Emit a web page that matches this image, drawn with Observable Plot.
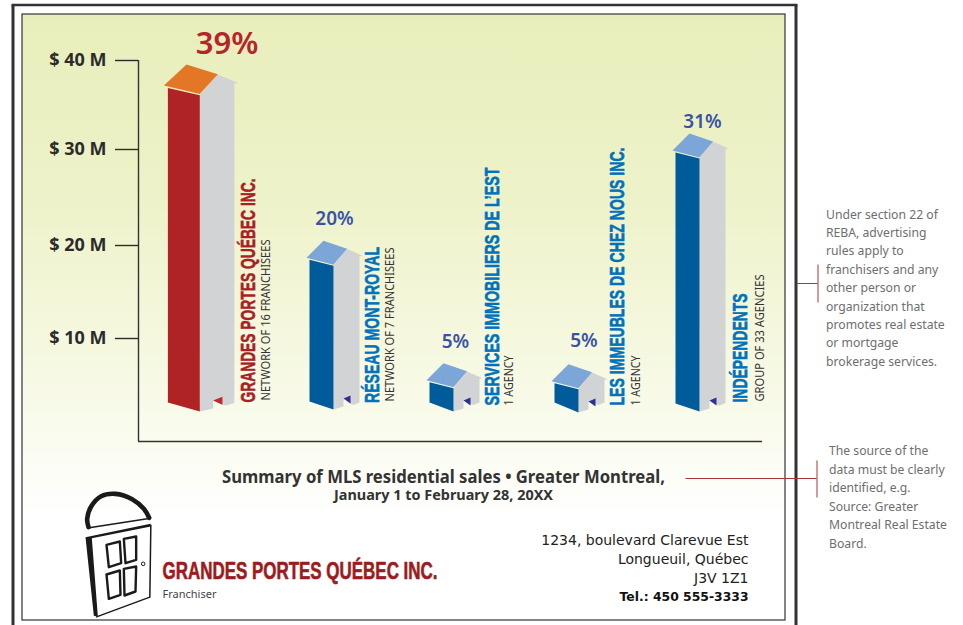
<!DOCTYPE html>
<html>
<head>
<meta charset="utf-8">
<script src="https://cdn.jsdelivr.net/npm/d3@7"></script>
<script src="https://cdn.jsdelivr.net/npm/@observablehq/plot@0.6"></script>
<style>html,body{margin:0;padding:0;background:#fff}svg{display:block}</style>
</head>
<body>
<script>
// ---- data ----
const names = ["GRANDES PORTES QUÉBEC INC.", "RÉSEAU MONT-ROYAL", "SERVICES IMMOBILIERS DE L’EST", "LES IMMEUBLES DE CHEZ NOUS INC.", "INDÉPENDENTS"];
const details = ["NETWORK OF 16 FRANCHISEES", "NETWORK OF 7 FRANCHISEES", "1 AGENCY", "1 AGENCY", "GROUP OF 33 AGENCIES"];
const salesMillions = [39.55, 20.5, 7.6, 7.5, 31.8];
const shares = ["39%", "20%", "5%", "5%", "31%"];
const yTicks = [10, 20, 30, 40];
const noteA = ["Under section 22 of", "REBA, advertising", "rules apply to", "franchisers and any", "other person or", "organization that", "promotes real estate", "or mortgage", "brokerage services."];
const noteB = ["The source of the", "data must be clearly", "identified, e.g.", "Source: Greater", "Montreal Real Estate", "Board."];
const address = ["1234, boulevard Clarevue Est", "Longueuil, Québec", "J3V 1Z1"];
const phone = "Tel.: 450 555-3333";
const titleLine = "Summary of MLS residential sales • Greater Montreal,";
const dateLine = "January 1 to February 28, 20XX";
const company = "GRANDES PORTES QUÉBEC INC.";
const role = "Franchiser";

// ---- layout ----
const yDomain = [0, 10, 20, 30, 40];
const yRange = [441, 338, 245, 149, 60];
const yScale = d3.scaleLinear(yDomain, yRange);
const Y = d3.scaleLinear(yRange, yDomain); // pixel row -> scale value, for furniture
const apexX = [186, 323, 443, 568, 689];
const sizeK = [1.33, 1, 1, 1, 1];
const sizeKY = [1.23, 1, 1, 1, 1];
const baseRow = [[402, 411, 402.5], [401, 409, 402], [402, 411, 402], [402, 412, 402], [403, 411, 402.5]];
const labelRowBottom = [402, 402.5, 405, 405, 402];
const nameBase = [254, 378, 498, 623, 746];
const nameLen = [224, 156, 238, 258, 109];
const detailBase = [269.5, 393.5, 512.5, 639.5, 763.5];
const detailBottom = [400, 401, 405, 405, 401];
const detailLen = [161, 154, 50, 50, 127];
const shareX = [226.5, 334, 455, 583.5, 702];
const shareRow = [53, 224, 347, 346, 127];
const shareSize = [31, 19, 19, 19, 19];

const RED = "#b02324", ORANGE = "#e37725", GREY = "#d2d3d5", BLUE = "#005b9a", SKY = "#7ca6d8", DOORR = "#c1272d", DOORB = "#2e3192";

// building faces as polygons
const verts = [];
function poly(id, fill, pts) { pts.forEach(p => verts.push({id, fill, x: p[0], y: Y(p[1])})); }
salesMillions.forEach((v, i) => {
  const k = sizeK[i], q = sizeKY[i], ax = apexX[i], ay = yScale(v);
  const [bl, bc, br] = baseRow[i];
  const cx = ax + 10 * k, lx = ax - 14 * k, rx = ax + 36 * k;
  const first = i === 0;
  poly("side" + i, GREY, [
    [cx, ay + 25 * q], [ax + 23 * k, ay + 8 * q], [ax + 39 * k, ay + 15 * q], [rx, ay + 15.5 * q],
    [rx, br], [cx + 20 * k, br + 2.5], [cx + 17 * k, br + 1.5], [cx + 10 * k, bc - 11],
    [cx + 10 * k, bc - 3], [cx, bc]
  ]);
  poly("front" + i, first ? RED : BLUE, [[lx, ay + 19 * q], [cx, ay + 25 * q], [cx, bc], [lx, bl]]);
  poly("roof" + i, first ? ORANGE : SKY, [[ax, ay], [ax + 23.5 * k, ay + 8 * q], [cx, ay + 24 * q], [ax - 17 * k, ay + 17 * q]]);
  poly("door" + i, first ? DOORR : DOORB, [[cx + 10 * k, bc - 11], [cx + 17 * k, bc - 11 - 2 * k - 1], [cx + 17 * k, bc - 3 - 2 * k - 1]]);
});

// door logo (furniture), outlines in a 3x grid anchored at the logo corner
const lg = ([a, b]) => [70 + a / 3, 480 + b / 3];
const logoFill = [
  [[45,170],[240,130],[241,138],[64,173],[82,408],[70,406]],
];
const logoStroke = [
  {w: 1.5, p: [[241,134],[238,350],[78,409]]},
  {w: 1.5, p: [[56,142],[240,113]]},
  {w: 2.4, p: [[108,193],[148,183],[152,248],[115,260],[108,193]]},
  {w: 2.4, p: [[160,175],[197,168],[197,238],[165,248],[160,175]]},
  {w: 2.4, p: [[108,282],[148,270],[150,343],[115,355],[108,282]]},
  {w: 2.4, p: [[160,265],[197,258],[195,333],[162,345],[160,265]]},
];
const logoArch = [[54,140],[50,115],[62,78],[92,47],[135,40],[185,56],[220,85],[236,112]];
logoFill.forEach((p, i) => poly("logoF" + i, "#1a1a1a", p.map(lg)));
const strokes = [];
logoStroke.forEach((s, i) => s.p.map(lg).forEach(q => strokes.push({id: i, w: s.w, x: q[0], y: Y(q[1])})));

const fit = lens => (index, scales, values, dims, ctx, next) => {
  const g = next(index, scales, values, dims, ctx);
  d3.select(g).selectAll("text").attr("textLength", (_, i) => lens[i]).attr("lengthAdjust", "spacingAndGlyphs");
  return g;
};

const defs = () => {
  const d = d3.create("svg:defs");
  const g = d.append("linearGradient").attr("id", "bg").attr("x1", 0).attr("x2", 0).attr("y1", 0).attr("y2", 1);
  [[0, "#e8eebb"], [0.3, "#eef2c9"], [0.55, "#f5f8df"], [0.72, "#fbfcf1"], [0.83, "#ffffff"]]
    .forEach(([o, c]) => g.append("stop").attr("offset", o).attr("stop-color", c));
  return d.node();
};
const box = (x1, x2, r1, r2, o) => Plot.rect([0], {x1, x2, y1: Y(r1), y2: Y(r2), ...o});
const seg = (x1, x2, r1, r2, o) => Plot.link([0], {x1, x2, y1: Y(r1), y2: Y(r2), ...o});
const LINE = "#a8343c";
const SANS = "Noto Sans, Open Sans, sans-serif";
const NARROW = "Liberation Sans Narrow, Liberation Sans, sans-serif";

const chart = Plot.plot({
  width: 963, height: 625,
  marginLeft: 138, marginRight: 0, marginTop: 60, marginBottom: 184,
  x: {domain: [138, 963], range: [138, 963], axis: null},
  y: {type: "linear", domain: yDomain, range: yRange, axis: null},
  color: {type: "identity"},
  marks: [
    defs,
    box(22, 785, 14, 620, {fill: "url(#bg)", stroke: "#333", strokeWidth: 1.2}),
    seg(12.5, 12.5, 625, 4.5, {stroke: "#333", strokeWidth: 3}),
    seg(11, 797, 4.5, 4.5, {stroke: "#333", strokeWidth: 2.4}),
    seg(795.5, 795.5, 4.5, 625, {stroke: "#333", strokeWidth: 3}),

    // axes
    Plot.ruleX([138], {y1: 0, y2: 40, stroke: "#333", strokeWidth: 1.4}),
    Plot.ruleY([0], {x1: 138, x2: 762, stroke: "#333", strokeWidth: 1.4}),
    Plot.axisY({ticks: yTicks, tickSize: 23, tickPadding: 9, anchor: "left", tickFormat: d => `$ ${d} M`, label: null,
      fontSize: 18, fontWeight: 700, fontFamily: SANS, color: "#2b2b2b", strokeWidth: 1.4}),

    // buildings
    Plot.line(verts, {x: "x", y: "y", z: "id", fill: "fill"}),

    // shares
    Plot.text(shares, {x: (_, i) => shareX[i], y: (_, i) => Y(shareRow[i]), text: d => d, fontFamily: SANS, fontWeight: 600,
      fontSize: (_, i) => shareSize[i], fill: (_, i) => i === 0 ? "#b5252a" : "#3953a4", lineAnchor: "bottom"}),

    // vertical labels
    Plot.text(names, {x: (_, i) => nameBase[i], y: (_, i) => Y(labelRowBottom[i]), text: d => d, rotate: -90,
      textAnchor: "start", lineAnchor: "bottom", fontFamily: NARROW, fontWeight: 700, fontSize: 21,
      fill: (_, i) => i === 0 ? "#a91f24" : "#0072bc", stroke: (_, i) => i === 0 ? "#a91f24" : "#0072bc", strokeWidth: 0.6, render: fit(nameLen)}),
    Plot.text(details, {x: (_, i) => detailBase[i], y: (_, i) => Y(detailBottom[i]), text: d => d, rotate: -90,
      textAnchor: "start", lineAnchor: "bottom", fontFamily: SANS, fontSize: 13, fill: "#333", render: fit(detailLen)}),

    // title
    Plot.text([titleLine], {x: 443, y: Y(482), text: d => d, fontFamily: SANS, fontWeight: 700, fontSize: 18, fill: "#333", lineAnchor: "bottom", render: fit([443])}),
    Plot.text([dateLine], {x: 443, y: Y(499), text: d => d, fontFamily: SANS, fontWeight: 700, fontSize: 14, fill: "#333", lineAnchor: "bottom", render: fit([219])}),

    // address
    Plot.text(address, {x: 748, y: (_, i) => Y(544 + 19 * i), text: d => d, textAnchor: "end", lineAnchor: "bottom", fontFamily: "DejaVu Sans", fontSize: 14, fill: "#222"}),
    Plot.text([phone], {x: 748, y: Y(600), text: d => d, textAnchor: "end", lineAnchor: "bottom", fontFamily: "DejaVu Sans", fontWeight: 700, fontSize: 13, fill: "#111", render: fit([129])}),

    // company
    Plot.text([company], {x: 162, y: Y(578), text: d => d, textAnchor: "start", lineAnchor: "bottom", fontFamily: NARROW, fontWeight: 700, fontSize: 24, fill: "#9b1b20", stroke: "#9b1b20", strokeWidth: 0.6, render: fit([275])}),
    Plot.text([role], {x: 162, y: Y(597), text: d => d, textAnchor: "start", lineAnchor: "bottom", fontFamily: SANS, fontSize: 11, fill: "#444"}),

    // logo
    Plot.line(logoArch.map(lg).map(q => ({x: q[0], y: Y(q[1])})), {x: "x", y: "y", curve: "catmull-rom", stroke: "#1a1a1a", strokeWidth: 4.6}),
    Plot.line(strokes, {x: "x", y: "y", z: "id", stroke: "#1a1a1a", strokeWidth: "w"}),
    Plot.dot([0], {x: 70 + 218 / 3, y: Y(480 + 250 / 3), r: 1.8, stroke: "#1a1a1a", strokeWidth: 1, fill: "#fff"}),

    // side notes
    Plot.text(noteA, {x: 825.5, y: (_, i) => Y(218 + 18.4 * i), text: d => d, textAnchor: "start", lineAnchor: "bottom", fontFamily: SANS, fontSize: 12.2, fill: "#6d6e71"}),
    Plot.text(noteB, {x: 828.5, y: (_, i) => Y(454.5 + 18.6 * i), text: d => d, textAnchor: "start", lineAnchor: "bottom", fontFamily: SANS, fontSize: 12.2, fill: "#6d6e71"}),

    // callouts
    seg(796, 817, 283, 283, {stroke: LINE, strokeWidth: 1}),
    seg(817.5, 817.5, 264, 302, {stroke: LINE, strokeWidth: 1}),
    seg(685, 816, 478, 478, {stroke: LINE, strokeWidth: 1}),
    seg(816.5, 816.5, 460, 497, {stroke: LINE, strokeWidth: 1}),
  ]
});
document.body.appendChild(chart);
</script>
</body>
</html>
